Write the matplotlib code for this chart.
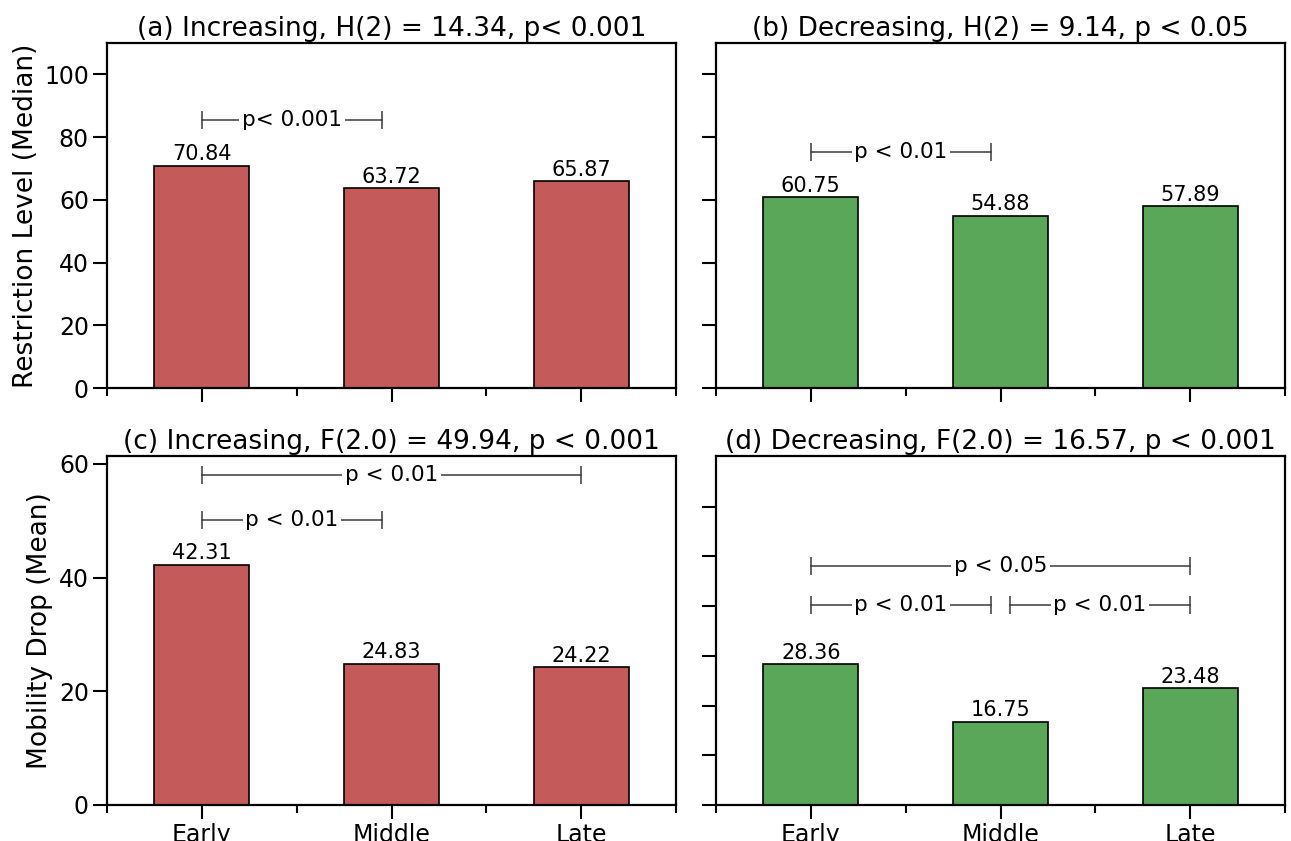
import matplotlib
matplotlib.use("Agg")
import matplotlib.pyplot as plt
from matplotlib.ticker import MultipleLocator, FixedLocator, NullFormatter

plt.rcParams['font.family'] = ['DejaVu Sans']

categories = ["Early", "Middle", "Late"]

restr_inc = [70.84, 63.72, 65.87]
restr_dec = [60.75, 54.88, 57.89]
mob_inc = [42.31, 24.83, 24.22]
mob_dec = [28.36, 16.75, 23.48]

titles = [
    "(a) Increasing, H(2) = 14.34, p< 0.001",
    "(b) Decreasing, H(2) = 9.14, p < 0.05",
    "(c) Increasing, F(2.0) = 49.94, p < 0.001",
    "(d) Decreasing, F(2.0) = 16.57, p < 0.001",
]

# brackets: (start index, end index, height in data units, label)
brackets_a = [(0, 0.95, 85.3, "p< 0.001")]
brackets_b = [(0, 0.95, 75.1, "p < 0.01")]
brackets_c = [(0, 2, 58.1, "p < 0.01"), (0, 0.95, 50.2, "p < 0.01")]
brackets_d = [(0, 2, 48.1, "p < 0.05"), (0, 0.95, 40.3, "p < 0.01"),
              (1.05, 2, 40.3, "p < 0.01")]

ylims = [110, 110, 61.4, 70.2]

red = "#c45a5a"
green = "#5aa75a"

W, H = 1291, 841
fig = plt.figure(figsize=(W / 100, H / 100), dpi=100)

def ax_at(l, r, t, b):
    return fig.add_axes([l / W, 1 - b / H, (r - l) / W, (b - t) / H])

ax_a = ax_at(107, 676, 43, 388)
ax_b = ax_at(716, 1285, 43, 388)
ax_c = ax_at(107, 676, 456, 805)
ax_d = ax_at(716, 1285, 456, 805)

panels = [
    (ax_a, restr_inc, red, brackets_a),
    (ax_b, restr_dec, green, brackets_b),
    (ax_c, mob_inc, red, brackets_c),
    (ax_d, mob_dec, green, brackets_d),
]

x = list(range(len(categories)))
for i, (ax, vals, col, brs) in enumerate(panels):
    ax.bar(x, vals, width=0.5, color=col, edgecolor="black", linewidth=1.2, zorder=2)
    for xi, v in zip(x, vals):
        ax.text(xi, v + ylims[i] * 0.004, f"{v:.2f}", ha="center", va="bottom", fontsize=15)
    ax.set_xlim(-0.5, 2.5)
    ax.set_ylim(0, ylims[i])
    ax.set_title(titles[i], fontsize=19, pad=5)
    ax.xaxis.set_major_locator(FixedLocator(x))
    ax.xaxis.set_minor_locator(FixedLocator([-0.5, 0.5, 1.5, 2.5]))
    if i >= 2:
        ax.set_xticklabels(categories)
    else:
        ax.set_xticklabels([])
    ax.tick_params(axis="both", which="major", length=10, width=1.5, direction="out",
                   labelsize=17, pad=3)
    ax.tick_params(axis="x", which="minor", length=6, width=1.5, direction="out")
    for s in ax.spines.values():
        s.set_linewidth(1.6)
    for (x1, x2, yb, lab) in brs:
        ax.plot([x1, x2], [yb, yb], color="#3a3a3a", lw=1.1, zorder=3)
        ax.plot([x1, x2], [yb, yb], color="#3a3a3a", marker="|", markersize=13,
                markeredgewidth=1.1, ls="none", zorder=3)
        ax.text((x1 + x2) / 2, yb, lab, ha="center", va="center", fontsize=15.5, zorder=4,
                bbox=dict(facecolor="white", edgecolor="none", pad=2))

ax_a.yaxis.set_major_locator(MultipleLocator(20))
ax_b.yaxis.set_major_locator(MultipleLocator(20))
ax_b.yaxis.set_major_formatter(NullFormatter())
ax_c.yaxis.set_major_locator(MultipleLocator(20))
ax_d.yaxis.set_major_locator(FixedLocator([0, 10, 20, 30, 40, 50, 60]))
ax_d.yaxis.set_major_formatter(NullFormatter())

ax_a.set_ylabel("Restriction Level (Median)", fontsize=19)
ax_c.set_ylabel("Mobility Drop (Mean)", fontsize=19)

fig.savefig("out.png", dpi=100)
